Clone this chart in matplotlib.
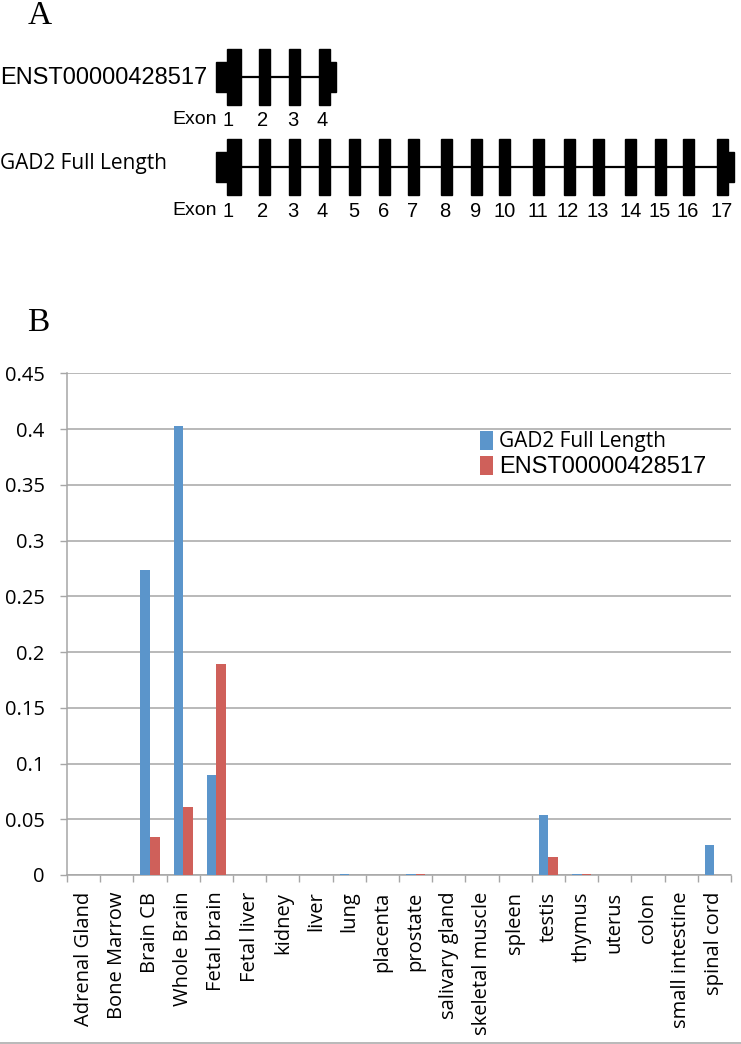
import numpy as np
import matplotlib
matplotlib.use('Agg')
import matplotlib.pyplot as plt
from matplotlib.patches import Rectangle, Patch
from matplotlib.lines import Line2D

# ---- Panel A: exon structure (positions in diagram units, left edge of each exon) ----
short_exons = [227, 259, 289, 319]
full_exons = [227, 259, 289, 319, 349, 379, 408, 441, 471, 499, 533, 564, 593, 625, 655, 683, 717]
exon_label_x_short = [228, 263, 293, 322]
exon_label_x_full = [228, 263, 293, 322, 354, 384, 413, 445, 476, 505, 538, 568, 598, 631, 660, 688, 722]

# ---- Panel B: expression data ----
tissues = ['Adrenal Gland', 'Bone Marrow', 'Brain CB', 'Whole Brain', 'Fetal brain',
           'Fetal liver', 'kidney', 'liver', 'lung', 'placenta', 'prostate',
           'salivary gland', 'skeletal muscle', 'spleen', 'testis', 'thymus',
           'uterus', 'colon', 'small intestine', 'spinal cord']
gad2_full = [0, 0, 0.274, 0.403, 0.090, 0, 0, 0, 0.001, 0, 0.001,
             0, 0, 0, 0.054, 0.001, 0, 0, 0, 0.027]
enst = [0, 0, 0.034, 0.061, 0.189, 0, 0, 0, 0, 0, 0.001,
        0, 0, 0, 0.016, 0.001, 0, 0, 0, 0]

W, H = 741, 1044
fig = plt.figure(figsize=(W / 100, H / 100), dpi=100)

# Panel A axes in pixel-like coordinates
axA = fig.add_axes([0, 1 - 240 / H, 1, 240 / H])
axA.set_xlim(0, W)
axA.set_ylim(240, 0)
axA.axis('off')

sans = 'Liberation Sans'
calib = 'Open Sans'
serif = 'Liberation Serif'

fig.text(40 / W, 1 - 16 / H, 'A', fontsize=24, family=serif, ha='center', va='center')
fig.text(38 / W, 1 - 323 / H, 'B', fontsize=24, family=serif, ha='center', va='center')


def draw_gene(ax, exons, ymid, label_x, label_y):
    ew, eh = 10.5, 56
    ax.plot([exons[0], exons[-1] + ew], [ymid, ymid], color='black', lw=1.6, zorder=1)
    for i, x0 in enumerate(exons):
        w = ew + 3.5 if i == 0 else ew
        ax.add_patch(Rectangle((x0, ymid - eh / 2), w, eh, color='black', zorder=2))
    # UTR flanks
    ax.add_patch(Rectangle((exons[0] - 11, ymid - 15), 11, 30, color='black', zorder=2))
    ax.add_patch(Rectangle((exons[-1] + ew, ymid - 15), 6, 30, color='black', zorder=2))
    ax.text(217, label_y, 'Exon', fontsize=14, family=sans, ha='right', va='center')
    for k, lx in enumerate(label_x):
        ax.text(lx, label_y + 1, str(k + 1), fontsize=14.5, family=sans, ha='center', va='center')


draw_gene(axA, short_exons, 77, exon_label_x_short, 119)
draw_gene(axA, full_exons, 167, exon_label_x_full, 211)
axA.text(0, 78, 'ENST00000428517', fontsize=17, family=sans, ha='left', va='center')
axA.text(0, 164, 'GAD2 Full Length', fontsize=15, family=calib, ha='left', va='center')

# Panel B
left, right, top, bottom = 67, 731, 373.3, 875
axB = fig.add_axes([left / W, 1 - bottom / H, (right - left) / W, (bottom - top) / H])

blue = '#5b95cb'
red = '#cf605a'
n = len(tissues)
x = np.arange(n)
bw = 0.29
axB.bar(x - bw / 2, gad2_full, width=bw, color=blue, zorder=3)
axB.bar(x + bw / 2, enst, width=bw, color=red, zorder=3)

axB.set_xlim(-0.5, n - 0.5)
axB.set_ylim(0, 0.45)
yt = np.arange(0, 0.451, 0.05)
axB.set_yticks(yt)
axB.set_yticklabels(['0', '0.05', '0.1', '0.15', '0.2', '0.25', '0.3', '0.35', '0.4', '0.45'],
                    fontsize=14.5, family=calib)
axB.yaxis.grid(True, color='#a6a6a6', lw=1.1, zorder=0)
axB.tick_params(axis='y', length=5, width=1, color='#a6a6a6', pad=11)

axB.set_xticks(x)
axB.set_xticklabels(tissues, rotation=90, fontsize=14.5, family=calib, va='top', ha='center')
axB.set_xticks(np.arange(-0.5, n, 1.0), minor=True)
axB.tick_params(axis='x', which='major', length=0, pad=12)
axB.tick_params(axis='x', which='minor', length=5, width=1, color='#a6a6a6')

for s in ['top', 'right']:
    axB.spines[s].set_visible(False)
for s in ['left', 'bottom']:
    axB.spines[s].set_color('#a6a6a6')
    axB.spines[s].set_linewidth(1.1)

handles = [Patch(facecolor=blue, edgecolor='none'), Patch(facecolor=red, edgecolor='none')]
leg = axB.legend(handles, ['GAD2 Full Length', 'ENST00000428517'], loc='upper left',
                 bbox_to_anchor=(480 / W, 1 - 431 / H), bbox_transform=fig.transFigure,
                 prop={'family': calib, 'size': 15},
                 frameon=False, handlelength=0.62, handleheight=1.0, handletextpad=0.3,
                 labelspacing=0.15, borderpad=0, borderaxespad=0)
t0, t1 = leg.get_texts()
t1.set_family(sans)
t1.set_fontsize(17)

# chart bottom border
fig.add_artist(Line2D([0, 1], [1 - 1042.5 / H, 1 - 1042.5 / H], transform=fig.transFigure,
                      color='#a6a6a6', lw=1.1))

fig.savefig('out.png', dpi=100)
